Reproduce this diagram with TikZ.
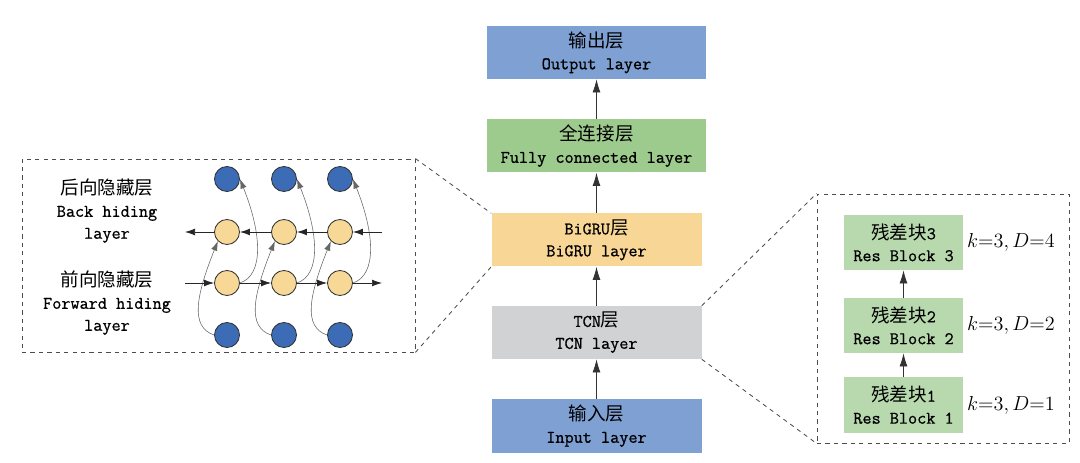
\documentclass[tikz,border=0pt]{standalone}
\usepackage{fontspec}
\usepackage{amsmath}
\usepackage{tikz}
\usetikzlibrary{arrows.meta}
\setmonofont{Latin Modern Mono}[FakeBold=0.8]
\newfontfamily\cjk{Noto Sans CJK SC}
\definecolor{layerblue}{HTML}{7EA0D3}
\definecolor{fcgreen}{HTML}{9DCA8D}
\definecolor{gruyellow}{HTML}{F8D796}
\definecolor{tcngray}{HTML}{D1D2D4}
\definecolor{resgreen}{HTML}{B8D9AE}
\definecolor{cellblue}{HTML}{3B6CB5}
\definecolor{cellyellow}{HTML}{F8D896}

\begin{document}
\begin{tikzpicture}[x=0.25mm, y=-0.25mm,
    layer/.style={minimum width=52.5mm, minimum height=13.25mm, inner sep=0pt,
        align=center, font=\fontsize{12.6}{15.6}\selectfont\ttfamily},
    resblock/.style={fill=resgreen, minimum width=29.75mm, minimum height=13.75mm,
        inner sep=0pt, align=center, font=\fontsize{12.6}{15.6}\selectfont\ttfamily},
    sidetext/.style={align=center, font=\fontsize{12.6}{15.6}\selectfont\ttfamily},
    frame/.style={draw=black!70, dashed, line width=0.6pt, inner sep=0pt},
    zoomline/.style={draw=black!70, dashed, line width=0.6pt},
    cell/.style={circle, draw=black!80, line width=0.6pt, minimum size=6.25mm, inner sep=0pt},
    flow/.style={-{Latex[length=3.3mm,width=2mm]}, line width=0.6pt, black!80},
    cellflow/.style={-{Latex[length=2.5mm,width=1.7mm]}, line width=0.5pt, black!85},
    skipflow/.style={-{Latex[length=2.4mm,width=1.6mm]}, line width=0.4pt, black!60}]
    \useasboundingbox (0,0) rectangle (1080,463);

    % main column
    \node[layer, fill=layerblue, minimum width=54.75mm] (out) at (596.5,52.5) {{\cjk\fontsize{13.2}{15.6}\selectfont 输出层}\\Output layer};
    \node[layer, fill=fcgreen, minimum width=54.75mm] (fc) at (596.5,146) {{\cjk\fontsize{13.2}{15.6}\selectfont 全连接层}\\Fully connected layer};
    \node[layer, fill=gruyellow] (gru) at (596.5,240) {BiGRU{\cjk\fontsize{13.2}{15.6}\selectfont 层}\\BiGRU layer};
    \node[layer, fill=tcngray] (tcn) at (596.5,332.5) {TCN{\cjk\fontsize{13.2}{15.6}\selectfont 层}\\TCN layer};
    \node[layer, fill=layerblue] (in) at (596.5,426) {{\cjk\fontsize{13.2}{15.6}\selectfont 输入层}\\Input layer};
    \draw[flow] (in) -- (tcn);
    \draw[flow] (tcn) -- (gru);
    \draw[flow] (gru) -- (fc);
    \draw[flow] (fc) -- (out);

    % BiGRU detail
    \node[frame, minimum width=98.25mm, minimum height=48.25mm] (gruzoom) at (218.5,255.5) {};
    \draw[zoomline] (gruzoom.north east) -- (gru.north west);
    \draw[zoomline] (gruzoom.south east) -- (gru.south west);
    \node[sidetext] (bklabel) at (107,211) {{\cjk\fontsize{13.2}{15.6}\selectfont 后向隐藏层}\\Back hiding\\layer};
    \node[sidetext] (fwlabel) at (107,303) {{\cjk\fontsize{13.2}{15.6}\selectfont 前向隐藏层}\\Forward hiding\\layer};
    \foreach \i/\x in {1/227,2/284,3/340} {
        \node[cell, fill=cellblue] (top\i) at (\x,179) {};
        \node[cell, fill=cellyellow] (bk\i) at (\x,232) {};
        \node[cell, fill=cellyellow] (fw\i) at (\x,283) {};
        \node[cell, fill=cellblue] (bot\i) at (\x,335) {};
        \draw[skipflow] (bot\i.west) .. controls +(-24,-8) and +(-22,55) .. (bk\i.south west);
        \draw[skipflow] (fw\i.east) .. controls +(24,-8) and +(22,55) .. (top\i.east);
    }
    \coordinate (bkin) at (382,232);
    \coordinate (bkout) at (185,232);
    \coordinate (fwin) at (185,283);
    \coordinate (fwout) at (382,283);
    \draw[cellflow] (bkin) -- (bk3);
    \draw[cellflow] (bk3) -- (bk2);
    \draw[cellflow] (bk2) -- (bk1);
    \draw[cellflow] (bk1) -- (bkout);
    \draw[cellflow] (fwin) -- (fw1);
    \draw[cellflow] (fw1) -- (fw2);
    \draw[cellflow] (fw2) -- (fw3);
    \draw[cellflow] (fw3) -- (fwout);

    % TCN detail
    \node[frame, minimum width=63mm, minimum height=62.25mm] (tcnzoom) at (943,318.5) {};
    \draw[zoomline] (tcn.north east) -- (tcnzoom.north west);
    \draw[zoomline] (tcn.south east) -- (tcnzoom.south west);
    \node[resblock] (rb1) at (903.5,405) {{\cjk\fontsize{13.2}{15.6}\selectfont 残差块}1\\Res Block 1};
    \node[resblock] (rb2) at (903.5,325.5) {{\cjk\fontsize{13.2}{15.6}\selectfont 残差块}2\\Res Block 2};
    \node[resblock] (rb3) at (903.5,242.5) {{\cjk\fontsize{13.2}{15.6}\selectfont 残差块}3\\Res Block 3};
    \draw[flow] (rb1) -- (rb2);
    \draw[flow] (rb2) -- (rb3);
    \node[font=\fontsize{13.5}{16}\selectfont] (d1) at (1011,405) {$k{=}3,D{=}1$};
    \node[font=\fontsize{13.5}{16}\selectfont] (d2) at (1011,325.5) {$k{=}3,D{=}2$};
    \node[font=\fontsize{13.5}{16}\selectfont] (d3) at (1011,242.5) {$k{=}3,D{=}4$};
\end{tikzpicture}
\end{document}
